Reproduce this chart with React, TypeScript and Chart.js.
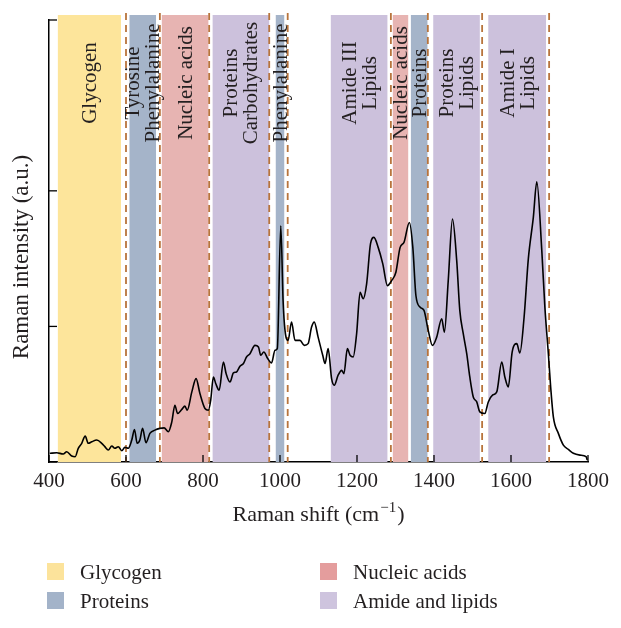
import { useEffect, useRef } from "react";
import { Chart, registerables } from "chart.js";

Chart.register(...registerables);

const ramanShift = [
  402, 420, 437, 446, 459, 468, 476, 485, 494, 502,
  511, 524, 537, 545, 554, 563, 571, 580, 589, 597,
  606, 615, 622, 629, 636, 643, 652, 662, 675, 688,
  699, 710, 719, 727, 734, 745, 753, 759, 771, 782,
  792, 805, 814, 820, 827, 833, 842, 853, 860, 870,
  879, 887, 896, 905, 913, 922, 935, 944, 950, 958,
  968, 978, 987, 993, 1002, 1008, 1013, 1021, 1030, 1039,
  1052, 1063, 1073, 1082, 1089, 1099, 1111, 1117, 1125, 1134,
  1141, 1151, 1160, 1166, 1175, 1182, 1190, 1199, 1208, 1216,
  1225, 1235, 1244, 1255, 1267, 1279, 1290, 1301, 1312, 1322,
  1336, 1345, 1353, 1364, 1374, 1385, 1396, 1407, 1420, 1427,
  1437, 1448, 1459, 1467, 1476, 1485, 1493, 1502, 1511, 1519,
  1532, 1541, 1552, 1563, 1576, 1584, 1593, 1603, 1615, 1623,
  1634, 1645, 1658, 1667, 1680, 1688, 1697, 1703, 1710, 1723,
  1736, 1749, 1762, 1779, 1795, 1798,
];

const intensity = [
  0.064, 0.068, 0.059, 0.076, 0.044, 0.039, 0.101, 0.138, 0.191, 0.138,
  0.149, 0.162, 0.138, 0.113, 0.088, 0.118, 0.101, 0.113, 0.083, 0.108,
  0.101, 0.162, 0.24, 0.138, 0.162, 0.248, 0.142, 0.211, 0.235, 0.248,
  0.252, 0.223, 0.296, 0.419, 0.358, 0.388, 0.412, 0.382, 0.517, 0.615,
  0.505, 0.395, 0.382, 0.456, 0.627, 0.579, 0.529, 0.738, 0.652, 0.59,
  0.657, 0.664, 0.706, 0.726, 0.774, 0.799, 0.86, 0.848, 0.787, 0.811,
  0.763, 0.73, 0.824, 0.836, 1.743, 1.191, 0.971, 0.897, 1.032, 0.897,
  0.897, 0.86, 0.873, 0.995, 1.032, 0.921, 0.787, 0.726, 0.836, 0.615,
  0.566, 0.64, 0.676, 0.652, 0.836, 0.787, 0.774, 0.946, 1.252, 1.204,
  1.314, 1.608, 1.657, 1.583, 1.461, 1.301, 1.338, 1.399, 1.583, 1.62,
  1.767, 1.583, 1.228, 1.142, 1.118, 0.971, 0.86, 0.921, 1.057, 0.958,
  1.338, 1.792, 1.485, 1.118, 0.946, 0.799, 0.627, 0.48, 0.443, 0.37,
  0.358, 0.443, 0.493, 0.517, 0.738, 0.627, 0.554, 0.811, 0.873, 0.804,
  1.068, 1.498, 1.804, 2.066, 1.559, 1.142, 0.799, 0.554, 0.333, 0.211,
  0.125, 0.093, 0.064, 0.051, 0.039, 0.015,
];

const xTickValues = [400, 600, 800, 1000, 1200, 1400, 1600, 1800];
const yTickValues = [0, 1, 2, 3.26];

// Assignment bands: start, end, class, label lines
const bandStart = [423, 609, 693, 825, 989, 1132, 1293, 1340, 1398, 1541];
const bandEnd = [587, 678, 814, 972, 1011, 1279, 1333, 1383, 1519, 1691];
const bandClass = [0, 1, 2, 3, 1, 3, 2, 1, 3, 3];
const bandLabels = [
  ["Glycogen"],
  ["Tyrosine", "Phenylalanine"],
  ["Nucleic acids"],
  ["Proteins", "Carbohydrates"],
  ["Phenylalanine"],
  ["Amide III", "Lipids"],
  ["Nucleic acids"],
  ["Proteins"],
  ["Proteins", "Lipids"],
  ["Amide I", "Lipids"],
];
const dashedShifts = [600, 688, 816, 972, 1020, 1288, 1384, 1525, 1699];

const classNames = ["Glycogen", "Proteins", "Nucleic acids", "Amide and lipids"];
const classBandColors = ["#FDE59B", "#A5B4C9", "#E7B4B2", "#CCC1DC"];
const classLegendColors = ["#FCE39B", "#A3B3C9", "#E49D9D", "#CEC4DE"];

const SERIF = "'Liberation Serif', 'Times New Roman', serif";
const TEXT = "#231F20";

const overlayPlugin = {
  id: "ramanOverlay",
  beforeDatasetsDraw(chart: any) {
    const { ctx, chartArea, scales } = chart;
    const x = scales.x;
    const top = chartArea.top;
    const bottom = chartArea.bottom;
    ctx.save();
    // bands
    for (let i = 0; i < bandStart.length; i++) {
      const x0 = x.getPixelForValue(bandStart[i]);
      const x1 = x.getPixelForValue(bandEnd[i]);
      ctx.fillStyle = classBandColors[bandClass[i]];
      ctx.fillRect(x0, top - 5, x1 - x0, bottom - top + 5);
    }
    // dashed separators
    ctx.strokeStyle = "#B8743C";
    ctx.lineWidth = 1.8;
    ctx.setLineDash([7, 5]);
    for (const d of dashedShifts) {
      const px = x.getPixelForValue(d);
      ctx.beginPath();
      ctx.moveTo(px, top - 7);
      ctx.lineTo(px, bottom);
      ctx.stroke();
    }
    ctx.setLineDash([]);
    // band labels
    ctx.fillStyle = TEXT;
    ctx.font = `21px ${SERIF}`;
    ctx.textAlign = "center";
    ctx.textBaseline = "middle";
    const lineGap = 20;
    for (let i = 0; i < bandStart.length; i++) {
      const cx = (x.getPixelForValue(bandStart[i]) + x.getPixelForValue(bandEnd[i])) / 2;
      const lines = bandLabels[i];
      ctx.save();
      ctx.translate(cx, top + 63);
      ctx.rotate(-Math.PI / 2);
      for (let j = 0; j < lines.length; j++) {
        const off = (j - (lines.length - 1) / 2) * lineGap;
        ctx.fillText(lines[j], 0, off + 1);
      }
      ctx.restore();
    }
    ctx.restore();
  },
  afterDraw(chart: any) {
    const { ctx, chartArea, scales } = chart;
    const x = scales.x;
    const y = scales.y;
    ctx.save();
    // inward tick marks
    ctx.strokeStyle = "#000";
    ctx.lineWidth = 1.3;
    for (const v of xTickValues) {
      const px = x.getPixelForValue(v);
      ctx.beginPath();
      ctx.moveTo(px, chartArea.bottom);
      ctx.lineTo(px, chartArea.bottom - 7);
      ctx.stroke();
    }
    for (const v of yTickValues) {
      const py = y.getPixelForValue(v);
      ctx.beginPath();
      ctx.moveTo(chartArea.left, py);
      ctx.lineTo(chartArea.left + 8, py);
      ctx.stroke();
    }
    // x-axis title with superscript
    ctx.fillStyle = TEXT;
    ctx.textBaseline = "alphabetic";
    ctx.textAlign = "left";
    const main = "Raman shift (cm";
    const sup = "\u22121";
    const close = ")";
    ctx.font = `22px ${SERIF}`;
    const wMain = ctx.measureText(main).width;
    const wClose = ctx.measureText(close).width;
    ctx.font = `15px ${SERIF}`;
    const wSup = ctx.measureText(sup).width;
    const total = wMain + wSup + 2 + wClose;
    const cx = (chartArea.left + chartArea.right) / 2;
    let sx = cx - total / 2;
    const base = chartArea.bottom + 59;
    ctx.font = `22px ${SERIF}`;
    ctx.fillText(main, sx, base);
    sx += wMain + 1;
    ctx.font = `15px ${SERIF}`;
    ctx.fillText(sup, sx, base - 9);
    sx += wSup + 1;
    ctx.font = `22px ${SERIF}`;
    ctx.fillText(close, sx, base);
    // y-axis title
    ctx.save();
    ctx.translate(22, (chartArea.top + chartArea.bottom) / 2 + 16);
    ctx.rotate(-Math.PI / 2);
    ctx.textAlign = "center";
    ctx.textBaseline = "middle";
    ctx.font = `23px ${SERIF}`;
    ctx.fillText("Raman intensity (a.u.)", 0, 0);
    ctx.restore();
    // legend (two columns)
    const colX = [47, 320];
    const rowY = [572, 601];
    ctx.font = `21px ${SERIF}`;
    ctx.textBaseline = "middle";
    ctx.textAlign = "left";
    for (let k = 0; k < classNames.length; k++) {
      const col = k < 2 ? 0 : 1;
      const row = k % 2;
      const lx = colX[col];
      const ly = rowY[row];
      ctx.fillStyle = classLegendColors[k];
      ctx.fillRect(lx, ly - 9, 17, 17);
      ctx.fillStyle = TEXT;
      ctx.fillText(classNames[k], lx + 33, ly + 1);
    }
    ctx.restore();
  },
};

export default function App() {
  const canvasRef = useRef<HTMLCanvasElement | null>(null);

  useEffect(() => {
    const canvas = canvasRef.current;
    if (!canvas) return;
    const points = ramanShift.map((w, i) => ({ x: w, y: intensity[i] }));
    const chart = new Chart(canvas, {
      type: "line",
      data: {
        datasets: [
          {
            data: points,
            borderColor: "#000",
            borderWidth: 1.6,
            pointRadius: 0,
            fill: false,
            cubicInterpolationMode: "monotone",
          },
        ],
      },
      options: {
        animation: false,
        responsive: false,
        maintainAspectRatio: false,
        layout: { padding: { left: 0, right: 33, top: 20, bottom: 0 } },
        plugins: {
          legend: { display: false },
          tooltip: { enabled: false },
        },
        scales: {
          x: {
            type: "linear",
            min: 400,
            max: 1800,
            afterBuildTicks: (s: any) => {
              s.ticks = xTickValues.map((v) => ({ value: v }));
            },
            afterFit: (s: any) => {
              s.height = 166;
            },
            ticks: {
              font: { family: SERIF, size: 21 },
              color: TEXT,
              padding: 7,
              maxRotation: 0,
              autoSkip: false,
              callback: (v: any) => String(v),
            },
            grid: { display: false, drawTicks: false },
            border: { display: true, color: "#000", width: 1.5 },
          },
          y: {
            type: "linear",
            min: 0,
            max: 3.26,
            afterFit: (s: any) => {
              s.width = 49;
            },
            ticks: { display: false },
            grid: { display: false, drawTicks: false },
            border: { display: true, color: "#000", width: 1.5 },
          },
        },
      },
      plugins: [overlayPlugin],
    });
    return () => chart.destroy();
  }, []);

  return (
    <div style={{ position: "fixed", left: 0, top: 0, width: 621, height: 628, background: "#fff" }}>
      <canvas ref={canvasRef} width={621} height={628} style={{ width: 621, height: 628, display: "block" }} />
    </div>
  );
}
